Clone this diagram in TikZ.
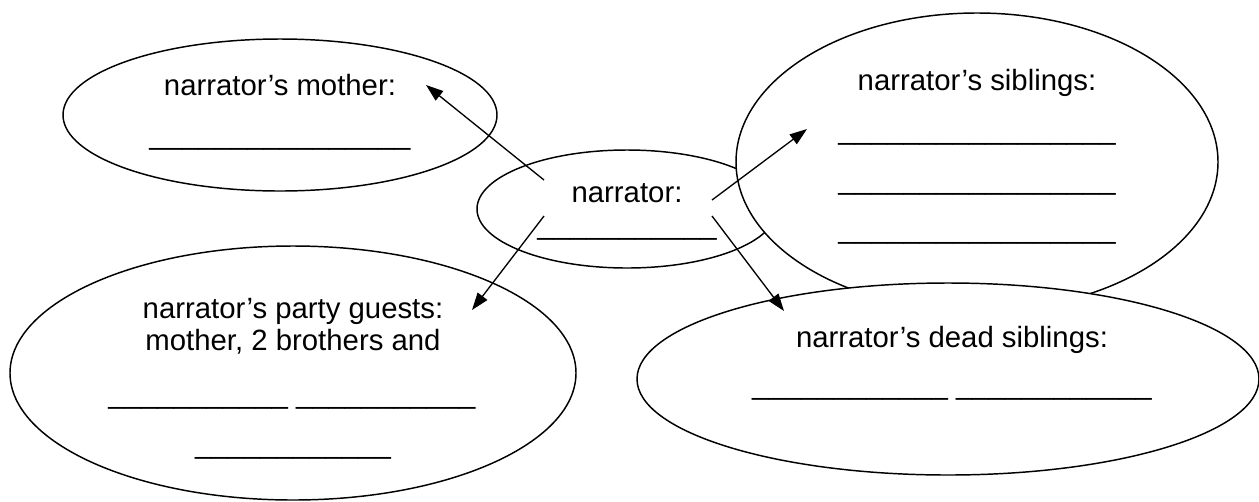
\documentclass[tikz,border=0pt]{standalone}
\usepackage{fontspec}
\setmainfont{Liberation Sans}
\usetikzlibrary{shapes.geometric,arrows.meta}

\newcommand{\blank}[1]{\foreach \k in {1,...,#1}{\_}}

\tikzset{
  bubble/.style={draw, ellipse, fill=white, line width=1.1pt, inner sep=0pt},
  words/.style={anchor=base, inner sep=0pt, font=\fontsize{22}{24}\selectfont},
  pointer/.style={-{Triangle[length=13pt,width=9pt]}, line width=1pt},
}

\begin{document}
\begin{tikzpicture}[x=0.75pt, y=-0.75pt]
    \useasboundingbox (0,0) rectangle (1259,501);

    \node [bubble, minimum width=225pt, minimum height=88.5pt] (narrBubble) at (627,209) {};
    \node [bubble, minimum width=325.5pt, minimum height=114pt] (mumBubble) at (280,115) {};
    \node [bubble, minimum width=424.5pt, minimum height=190.5pt] (guestBubble) at (293,373) {};
    \node [bubble, minimum width=361.5pt, minimum height=223.5pt] (sibBubble) at (977,162) {};
    \node [bubble, minimum width=466.5pt, minimum height=144pt] (deadBubble) at (948,379) {};

    \node [words] (narrTitle) at (627,202) {narrator:};
    \node [words] (narrBlank) at (627,234) {\blank{11}};

    \node [words] (mumTitle) at (280,95) {narrator’s mother:};
    \node [words] (mumBlank) at (280,144) {\blank{16}};

    \node [words] (sibTitle) at (977,90) {narrator’s siblings:};
    \foreach \y [count=\n] in {139,189,238}
      \node [words] (sibBlank\n) at (977,\y) {\blank{17}};

    \node [words] (guestTitle) at (293,318) {narrator’s party guests:};
    \node [words] (guestList) at (293,350) {mother, 2 brothers and};
    \node [words] (guestBlankA) at (292,403) {\blank{11} \blank{11}};
    \node [words] (guestBlankB) at (293,453) {\blank{12}};

    \node [words] (deadTitle) at (952,347) {narrator’s dead siblings:};
    \node [words] (deadBlank) at (952,394) {\blank{12} \blank{12}};

    \coordinate (fromNW) at (544,180);
    \coordinate (fromNE) at (712,200);
    \coordinate (fromSW) at (544,216);
    \coordinate (fromSE) at (712,216);
    \coordinate (atMum) at (426,85);
    \coordinate (atSib) at (807,129);
    \coordinate (atGuest) at (472,310);
    \coordinate (atDead) at (784,311);

    \draw [pointer] (fromNW) -- (atMum);
    \draw [pointer] (fromNE) -- (atSib);
    \draw [pointer] (fromSW) -- (atGuest);
    \draw [pointer] (fromSE) -- (atDead);
\end{tikzpicture}
\end{document}
